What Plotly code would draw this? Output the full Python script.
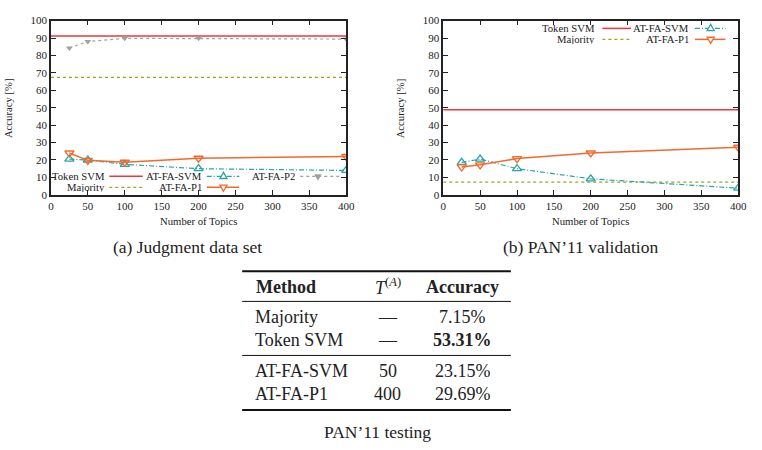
import plotly.graph_objects as go

W, H = 762, 450

# ---------------- data ----------------
topics = [25, 50, 100, 200, 400]
x_span = [0, 400]

# (a) Judgment data set
judg_token_svm = 91.2
judg_majority = 67.4
judg_at_fa_svm = [20.5, 20.0, 17.5, 15.0, 14.0]
judg_at_fa_p1 = [24.0, 19.8, 18.7, 21.0, 22.0]
judg_at_fa_p2 = [84.3, 88.0, 89.8, 89.8, 89.4]

# (b) PAN'11 validation
val_token_svm = 48.8
val_majority = 7.3
val_at_fa_svm = [18.6, 20.5, 15.0, 9.2, 3.8]
val_at_fa_p1 = [16.0, 17.2, 20.8, 24.0, 27.3]

# PAN'11 testing table
tbl_methods = ["Majority", "Token SVM", "AT-FA-SVM", "AT-FA-P1"]
tbl_topics = ["—", "—", "50", "400"]
tbl_acc = ["7.15%", "53.31%", "23.15%", "29.69%"]
tbl_bold = [False, True, False, False]

y_ticks = list(range(0, 101, 10))
x_ticks = list(range(0, 401, 50))

# ---------------- styles ----------------
C_TOK = "#e8393c"
C_MAJ = "#9ea224"
C_SVM = "#2aa3a3"
C_P1 = "#f26a2a"
C_P2 = "#a0a0a0"
SERIF = "Liberation Serif"
SVM_DASH = "5px,2px,1px,2px"


def px(x):
    return x / W


def py(y):
    return 1 - y / H


fig = go.Figure()


def add_panel(xa, ya, tok, maj, svm, p1, p2=None):
    fig.add_trace(go.Scatter(x=x_span, y=[tok, tok], mode="lines", xaxis=xa, yaxis=ya,
                             line=dict(color=C_TOK, width=1.5), showlegend=False))
    fig.add_trace(go.Scatter(x=x_span, y=[maj, maj], mode="lines", xaxis=xa, yaxis=ya,
                             line=dict(color=C_MAJ, width=1.3, dash="dot"), showlegend=False))
    if p2 is not None:
        fig.add_trace(go.Scatter(x=topics, y=p2, mode="lines+markers", xaxis=xa, yaxis=ya,
                                 line=dict(color=C_P2, width=1.2, dash="dot"),
                                 marker=dict(symbol="triangle-down", size=6, color=C_P2),
                                 showlegend=False))
    fig.add_trace(go.Scatter(x=topics, y=svm, mode="lines+markers", xaxis=xa, yaxis=ya,
                             line=dict(color=C_SVM, width=1.2, dash=SVM_DASH),
                             marker=dict(symbol="triangle-up-open", size=8,
                                         line=dict(color=C_SVM, width=1.3)),
                             showlegend=False))
    fig.add_trace(go.Scatter(x=topics, y=p1, mode="lines+markers", xaxis=xa, yaxis=ya,
                             line=dict(color=C_P1, width=1.5),
                             marker=dict(symbol="triangle-down-open", size=8,
                                         line=dict(color=C_P1, width=1.3)),
                             showlegend=False))


add_panel("x", "y", judg_token_svm, judg_majority, judg_at_fa_svm, judg_at_fa_p1, judg_at_fa_p2)
add_panel("x2", "y2", val_token_svm, val_majority, val_at_fa_svm, val_at_fa_p1)

tickfont = dict(family=SERIF, size=11, color="#222")
axis_common = dict(showgrid=False, zeroline=False, showline=True, linecolor="#222",
                   linewidth=1.6, mirror="ticks", ticks="inside", ticklen=5,
                   tickcolor="#222", tickwidth=1, tickfont=tickfont)

y_dom = [py(194), py(15)]
fig.update_layout(
    width=W, height=H, margin=dict(l=0, r=0, t=0, b=0),
    paper_bgcolor="white", plot_bgcolor="white",
    xaxis=dict(domain=[px(48.7), px(348.7)], range=[0, 400], tickvals=x_ticks, anchor="y", **axis_common),
    yaxis=dict(domain=y_dom, range=[0, 100], tickvals=y_ticks, anchor="x", **axis_common),
    xaxis2=dict(domain=[px(447.3), px(747)], range=[0, 400], tickvals=x_ticks, anchor="y2", **axis_common),
    yaxis2=dict(domain=y_dom, range=[0, 100], tickvals=y_ticks, anchor="x2", **axis_common),
)

ann = []
shapes = []


def text(x, y, s, size=11, anchor="center", angle=0, family=SERIF, color="#222", h=None):
    a = dict(x=px(x), y=py(y), xref="paper", yref="paper", text=s, showarrow=False,
             xanchor=anchor, yanchor="middle", textangle=angle,
             font=dict(family=family, size=size, color=color))
    if h is not None:
        a["height"] = h
        a["borderpad"] = 0
    ann.append(a)


def hline(x0, x1, y, color, width=1, dash="solid"):
    shapes.append(dict(type="line", xref="paper", yref="paper", x0=px(x0), x1=px(x1),
                       y0=py(y), y1=py(y), line=dict(color=color, width=width, dash=dash)))


def tri(cx, cy, r, color, up=True, filled=False):
    if up:
        pts = [(cx, cy - r), (cx - r, cy + r * 0.75), (cx + r, cy + r * 0.75)]
    else:
        pts = [(cx, cy + r), (cx - r, cy - r * 0.75), (cx + r, cy - r * 0.75)]
    path = "M " + " L ".join(f"{px(a):.5f},{py(b):.5f}" for a, b in pts) + " Z"
    shapes.append(dict(type="path", xref="paper", yref="paper", path=path,
                       line=dict(color=color, width=1.3),
                       fillcolor=color if filled else "white"))


# axis titles
text(5, 105, "Accuracy [%]", size=10.7, angle=-90)
text(403.5, 105, "Accuracy [%]", size=10.7, angle=-90)
text(198.7, 221, "Number of Topics", size=10.7)
text(597, 221, "Number of Topics", size=10.7)

# captions
text(187, 248, "(a) Judgment data set", size=17.5)
text(587, 248, "(b) PAN’11 validation", size=17.5)

# legend (a)
LS = 10.7
LH = 10
text(105, 175, "Token SVM", size=LS, anchor="right", h=LH)
hline(108, 142, 175, C_TOK, 1.5)
text(105, 186.3, "Majority", size=LS, anchor="right", h=LH)
hline(108, 142, 186.3, C_MAJ, 1.3, "dot")
text(203, 175, "AT-FA-SVM", size=LS, anchor="right", h=LH)
hline(207, 240, 175, C_SVM, 1.2, SVM_DASH)
tri(224, 174.5, 3.6, C_SVM, up=True)
text(203, 186.3, "AT-FA-P1", size=LS, anchor="right", h=LH)
hline(207, 240, 186.3, C_P1, 1.5)
tri(224, 186.8, 3.6, C_P1, up=False)
text(298, 175, "AT-FA-P2", size=LS, anchor="right", h=LH)
hline(302, 343, 175, C_P2, 1.2, "dot")
tri(320, 175.5, 2.6, C_P2, up=False, filled=True)

# legend (b)
R1, R2 = 23.0, 34.3
text(602.7, R1, "Token SVM", size=LS, anchor="right", h=LH)
hline(609, 638, R1, C_TOK, 1.5)
text(602.7, R2, "Majority", size=LS, anchor="right", h=LH)
hline(609, 638, R2, C_MAJ, 1.3, "dot")
text(697.7, R1, "AT-FA-SVM", size=LS, anchor="right", h=LH)
hline(703, 734, R1, C_SVM, 1.2, SVM_DASH)
tri(719, R1 - 0.5, 3.6, C_SVM, up=True)
text(697.7, R2, "AT-FA-P1", size=LS, anchor="right", h=LH)
hline(703, 734, R2, C_P1, 1.5)
tri(719, R2 + 0.5, 3.6, C_P1, up=False)

# table
TS = 18
hline(243, 516, 272.5, "#111", 2)
hline(243, 516, 303.5, "#111", 1)
hline(243, 516, 359, "#111", 1)
hline(243, 516, 415, "#111", 2)
text(255, 288.5, "<b>Method</b>", size=TS, anchor="left")
text(391, 288.5, "<i>T</i><sup>(<i>A</i>)</sup>", size=TS)
text(467, 288.5, "<b>Accuracy</b>", size=TS)
row_y = [319.5, 343.5, 374.5, 399]
for i in range(len(tbl_methods)):
    text(255, row_y[i], tbl_methods[i], size=TS, anchor="left", h=22)
    text(391, row_y[i], tbl_topics[i], size=TS, h=22)
    acc = f"<b>{tbl_acc[i]}</b>" if tbl_bold[i] else tbl_acc[i]
    text(467, row_y[i], acc, size=TS, h=22)
text(380, 438, "PAN’11 testing", size=17.5)

fig.update_layout(annotations=ann, shapes=shapes)
fig.write_html("out.html")
